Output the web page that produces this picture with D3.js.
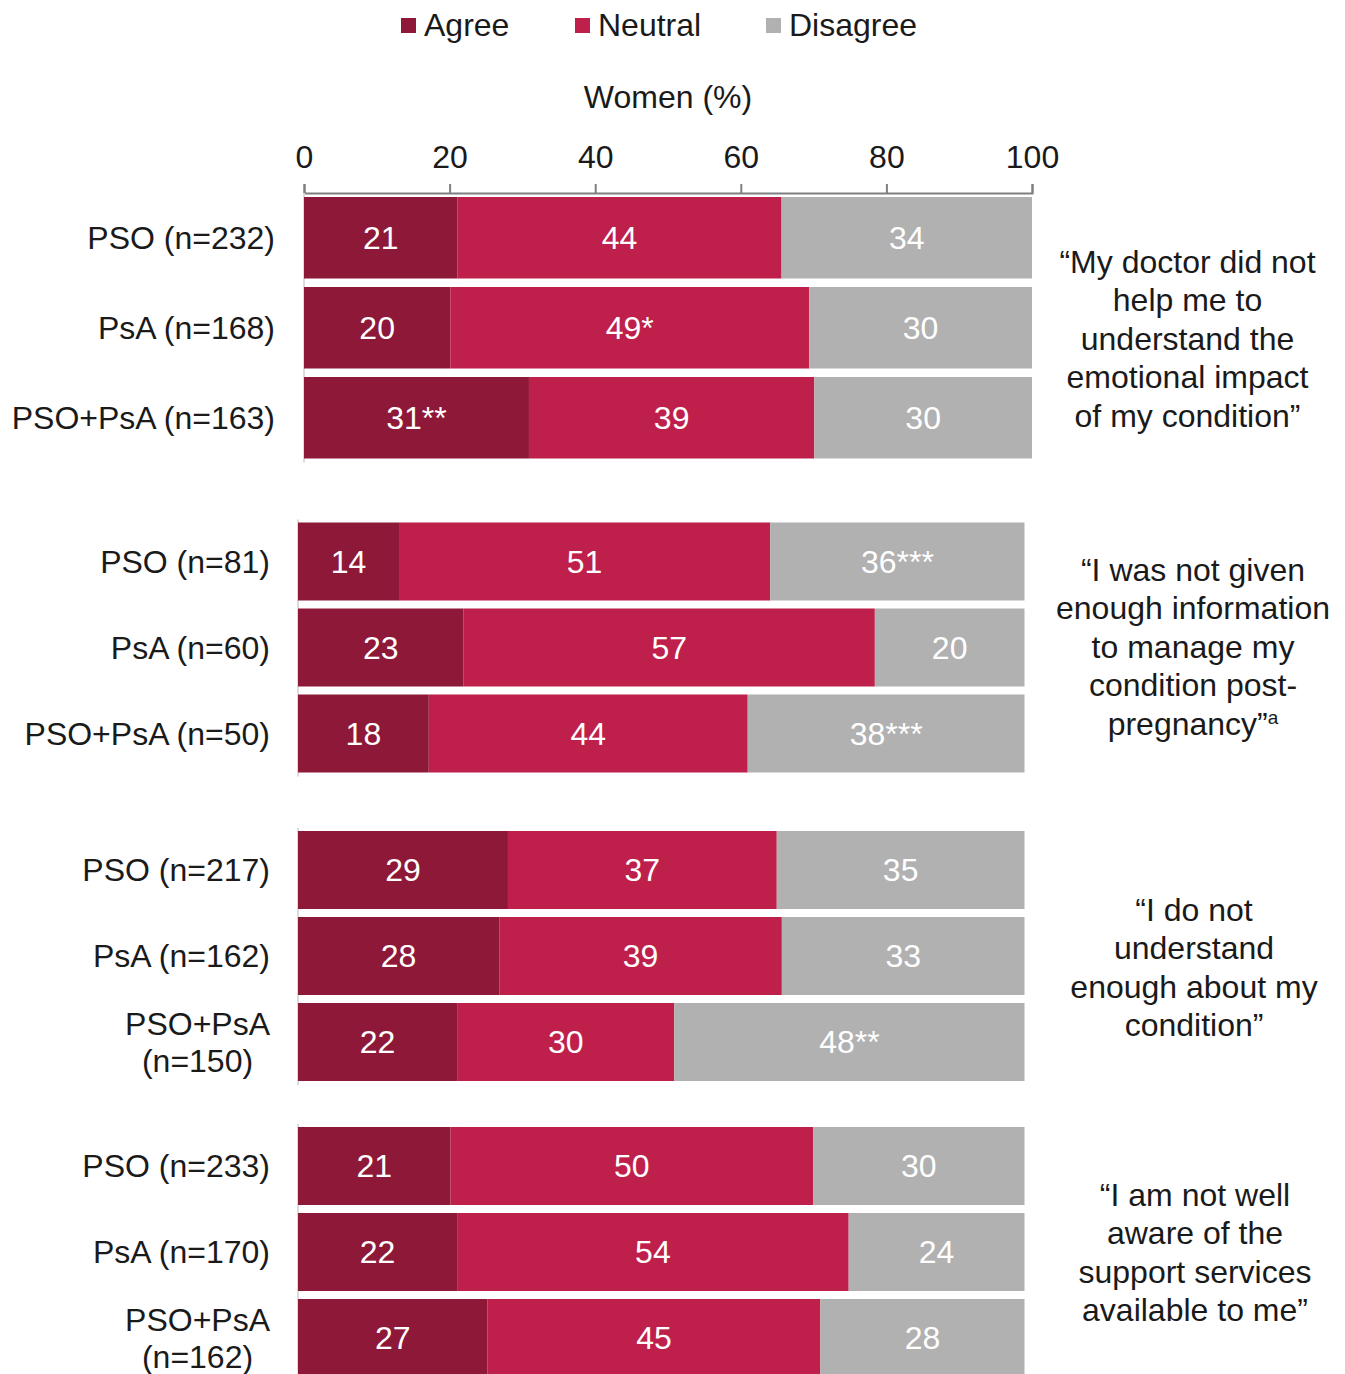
<!DOCTYPE html>
<html>
<head>
<meta charset="utf-8">
<script src="https://cdn.jsdelivr.net/npm/d3@7"></script>
<style>
  html, body { margin: 0; padding: 0; background: #fff; overflow: hidden; }
  svg text { font-family: "Liberation Sans", Arial, sans-serif; }
</style>
</head>
<body>
<div id="chart"></div>
<script>
// ---- data ----
const seriesNames = ["Agree", "Neutral", "Disagree"];
const seriesColors = ["#8e1838", "#be1f4b", "#b1b1b1"];
const xTicks = [0, 20, 40, 60, 80, 100];

const rowLabels = [
  ["PSO (n=232)", "PsA (n=168)", "PSO+PsA (n=163)"],
  ["PSO (n=81)", "PsA (n=60)", "PSO+PsA (n=50)"],
  ["PSO (n=217)", "PsA (n=162)", "PSO+PsA\n(n=150)"],
  ["PSO (n=233)", "PsA (n=170)", "PSO+PsA\n(n=162)"]
];

// segment widths (% of women)
const agree    = [[21.1, 20.1, 30.9], [13.9, 22.8, 18.0], [28.9, 27.7, 21.9], [21.0, 21.9, 26.1]];
const neutral  = [[44.5, 49.3, 39.2], [51.1, 56.6, 43.9], [37.0, 38.9, 29.9], [49.9, 53.9, 45.8]];
const disagree = [[34.4, 30.6, 29.9], [35.0, 20.6, 38.1], [34.1, 33.4, 48.2], [29.1, 24.2, 28.1]];

// printed labels
const agreeText    = [["21", "20", "31**"], ["14", "23", "18"], ["29", "28", "22"], ["21", "22", "27"]];
const neutralText  = [["44", "49*", "39"], ["51", "57", "44"], ["37", "39", "30"], ["50", "54", "45"]];
const disagreeText = [["34", "30", "30"], ["36***", "20", "38***"], ["35", "33", "48**"], ["30", "24", "28"]];

const quotes = [
  ["\u201cMy doctor did not", "help me to", "understand the", "emotional impact", "of my condition\u201d"],
  ["\u201cI was not given", "enough information", "to manage my", "condition post-", "pregnancy\u201d"],
  ["\u201cI do not", "understand", "enough about my", "condition\u201d"],
  ["\u201cI am not well", "aware of the", "support services", "available to me\u201d"]
];

// ---- layout ----
const width = 1345, height = 1374;
const fontSize = 32;
const layout = [
  { x0: 304, x1: 1032, top: 197, step: 90, bar: 81.5, labelRight: 275, quoteX: 1187.5, quoteY: 338.5 },
  { x0: 298, x1: 1024.5, top: 522.5, step: 86, bar: 78, labelRight: 270, quoteX: 1193, quoteY: 646.5 },
  { x0: 298, x1: 1024.5, top: 831, step: 86, bar: 78, labelRight: 270, quoteX: 1194, quoteY: 967.5 },
  { x0: 298, x1: 1024.5, top: 1127, step: 86, bar: 78, labelRight: 270, quoteX: 1195, quoteY: 1252.5 }
];

const svg = d3.select("#chart")
  .append("svg")
  .attr("width", width)
  .attr("height", height);

// legend
const legend = svg.append("g").attr("class", "legend");
const legendX = [401, 575, 766];
seriesNames.forEach((name, i) => {
  legend.append("rect")
    .attr("x", legendX[i])
    .attr("y", 18)
    .attr("width", 15)
    .attr("height", 15)
    .attr("fill", seriesColors[i]);
  legend.append("text")
    .attr("x", legendX[i] + 23)
    .attr("y", 25)
    .attr("dy", "0.35em")
    .style("font-size", fontSize + "px")
    .style("fill", "#1a1a1a")
    .text(name);
});

// axis title
svg.append("text")
  .attr("x", 668)
  .attr("y", 97)
  .attr("dy", "0.35em")
  .attr("text-anchor", "middle")
  .style("font-size", fontSize + "px")
  .style("fill", "#1a1a1a")
  .text("Women (%)");

// top axis (first group's scale)
const xTop = d3.scaleLinear().domain([0, 100]).range([layout[0].x0, layout[0].x1]);
const axis = svg.append("g")
  .attr("transform", "translate(0,193)")
  .call(d3.axisTop(xTop).tickValues(xTicks).tickSize(9).tickSizeOuter(9).tickPadding(16));
axis.selectAll("path, line").style("stroke", "#7f7f7f").style("stroke-width", 2);
axis.selectAll("text")
  .style("font-family", "'Liberation Sans', Arial, sans-serif")
  .style("font-size", fontSize + "px")
  .style("fill", "#1a1a1a");

const series = [
  { vals: agree, text: agreeText },
  { vals: neutral, text: neutralText },
  { vals: disagree, text: disagreeText }
];

layout.forEach((L, g) => {
  const x = d3.scaleLinear().domain([0, 100]).range([L.x0, L.x1]);
  const y = d3.scaleBand()
    .domain(d3.range(3))
    .range([L.top, L.top + 3 * L.step - (L.step - L.bar)])
    .paddingInner((L.step - L.bar) / L.step)
    .paddingOuter(0);

  const grp = svg.append("g").attr("class", "group-" + g);

  // faint category axis line
  grp.append("line")
    .attr("x1", x(0)).attr("x2", x(0))
    .attr("y1", g === 0 ? 193 : L.top - 3)
    .attr("y2", y(2) + y.bandwidth() + 4)
    .style("stroke", "#dcdcdc")
    .style("stroke-width", 2);

  // stacked rows
  d3.range(3).forEach((r) => {
    const stackData = [];
    let acc = 0;
    series.forEach((s, k) => {
      const v = s.vals[g][r];
      stackData.push({ k: k, start: acc, end: acc + v, label: s.text[g][r] });
      acc += v;
    });

    const row = grp.append("g");
    row.selectAll("rect")
      .data(stackData)
      .enter()
      .append("rect")
      .attr("x", (d) => x(d.start))
      .attr("y", y(r))
      .attr("width", (d) => x(d.end) - x(d.start))
      .attr("height", y.bandwidth())
      .attr("fill", (d) => seriesColors[d.k]);

    row.selectAll("text.val")
      .data(stackData)
      .enter()
      .append("text")
      .attr("class", "val")
      .attr("x", (d) => (x(d.start) + x(d.end)) / 2)
      .attr("y", y(r) + y.bandwidth() / 2)
      .attr("dy", "0.35em")
      .attr("text-anchor", "middle")
      .style("font-size", fontSize + "px")
      .style("fill", "#ffffff")
      .text((d) => d.label);

    // row label (may span two lines, centred on each other)
    const lines = rowLabels[g][r].split("\n");
    const cy = y(r) + y.bandwidth() / 2;
    const lh = 37;
    const lbl = grp.append("text")
      .attr("text-anchor", "middle")
      .style("font-size", fontSize + "px")
      .style("fill", "#1a1a1a");
    lines.forEach((t, i) => {
      lbl.append("tspan")
        .attr("y", cy + (i - (lines.length - 1) / 2) * lh)
        .attr("dy", "0.35em")
        .text(t);
    });
    let maxW = 0;
    lbl.selectAll("tspan").each(function () {
      maxW = Math.max(maxW, this.getComputedTextLength());
    });
    lbl.selectAll("tspan").attr("x", L.labelRight - maxW / 2);
  });

  // quote on the right
  const q = quotes[g];
  const qlh = 38.5;
  const qt = grp.append("text")
    .attr("text-anchor", "middle")
    .style("font-size", fontSize + "px")
    .style("fill", "#1a1a1a");
  q.forEach((t, i) => {
    qt.append("tspan")
      .attr("x", L.quoteX)
      .attr("y", L.quoteY + (i - (q.length - 1) / 2) * qlh)
      .attr("dy", "0.35em")
      .text(t);
    if (g === 1 && i === q.length - 1) {
      qt.append("tspan")
        .attr("dy", "-0.55em")
        .style("font-size", "19px")
        .text("a");
    }
  });
});
</script>
</body>
</html>
